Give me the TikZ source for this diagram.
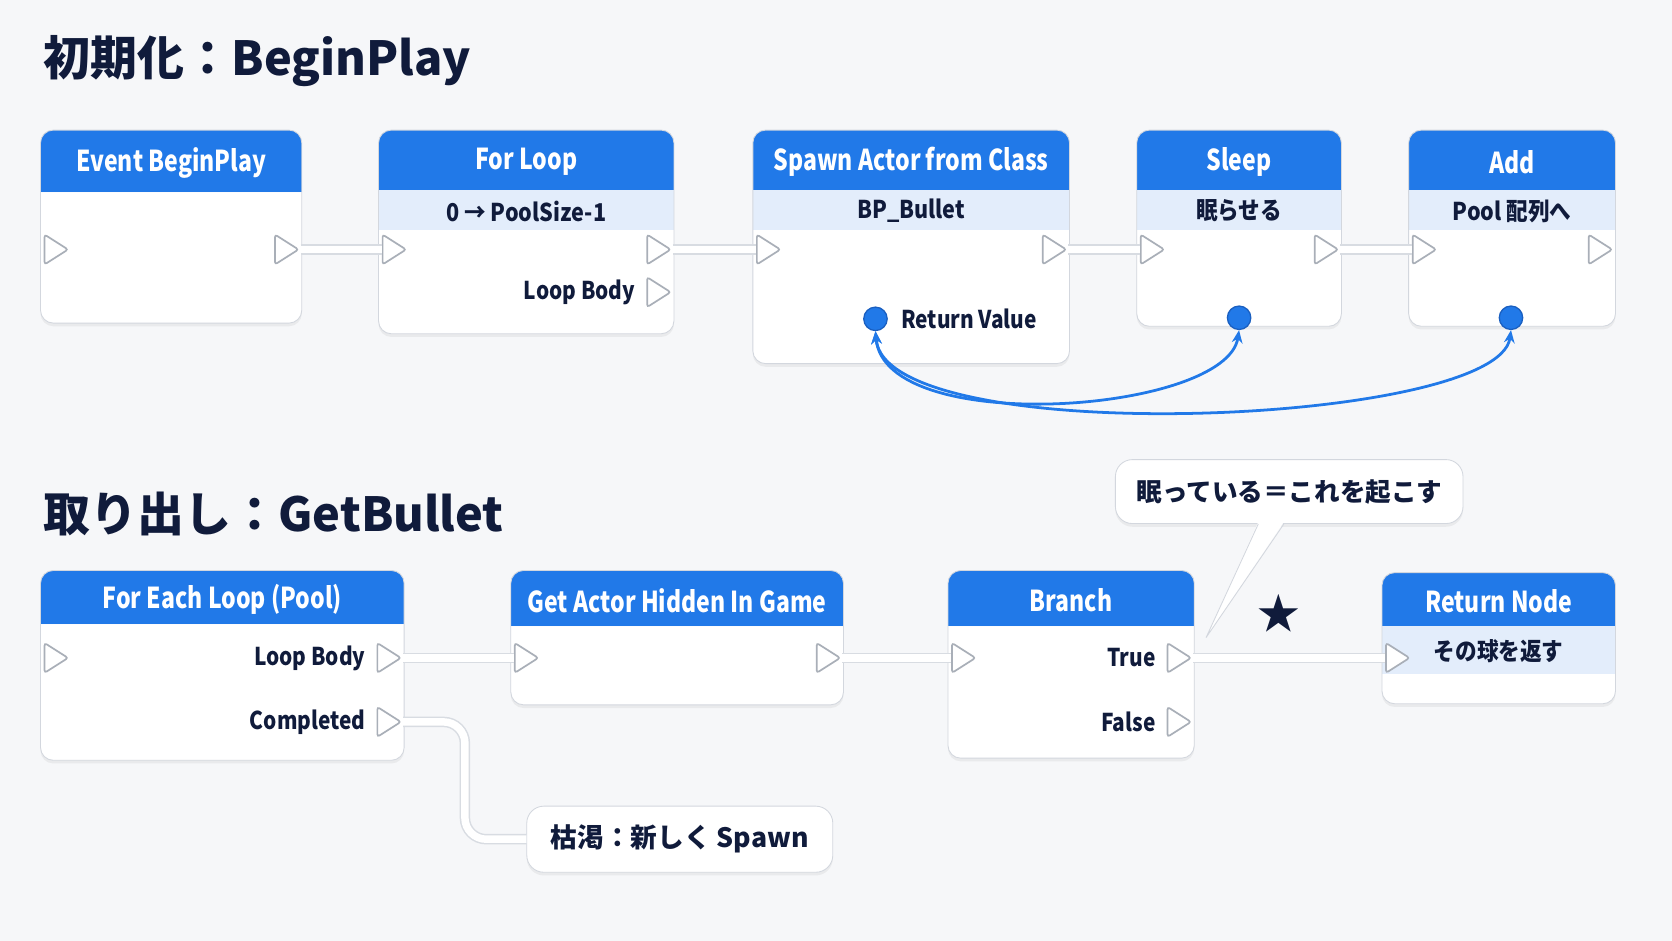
\documentclass[tikz,border=0pt]{standalone}
\usepackage{fontspec}
\setmainfont{Noto Sans CJK JP}
\newfontfamily\condfont{Noto Sans CJK JP}[FakeStretch=0.8]
\newfontfamily\medfont{Noto Sans CJK JP}[FakeStretch=0.85]
\newfontfamily\bandfont{Noto Sans CJK JP}[FakeStretch=0.88]
\usetikzlibrary{positioning,shapes.geometric,shadows,arrows.meta}

\definecolor{bgcol}{HTML}{F6F7F9}
\definecolor{hdrblue}{HTML}{2179E8}
\definecolor{bandblue}{HTML}{E3EDFB}
\definecolor{navy}{HTML}{101B3B}
\definecolor{boxline}{HTML}{D3D7DE}
\definecolor{pingray}{HTML}{A9AFB8}
\definecolor{wiregray}{HTML}{D8DCE2}
\definecolor{pinblue}{HTML}{1A5FC0}

% blueprint node: name, left, top, right, bottom, header bottom, band bottom, title, band text
\newcommand{\bpnode}[9]{%
  \fill[white, rounded corners=6pt, soft] (#2,#3) rectangle (#4,#5);
  \begin{scope}
    \clip[rounded corners=6pt] (#2,#3) rectangle (#4,#5);
    \fill[hdrblue] (#2,#3) rectangle (#4,#6);
    \fill[bandblue] (#2,#6) rectangle (#4,#7);
  \end{scope}
  \draw[boxline, rounded corners=6pt] (#2,#3) rectangle (#4,#5);
  \node[hdrtext] (#1) at ({(#2+#4)/2},{(#3+#6)/2+2}) {#8};
  \node[bandtext] (#1-b) at ({(#2+#4)/2},{(#6+#7)/2+1}) {#9};
}

\begin{document}
\begin{tikzpicture}[
  x=0.5pt, y=-0.5pt,
  soft/.style={drop shadow={opacity=0.10, shadow xshift=0pt, shadow yshift=-1.5pt}},
  title/.style={anchor=west, text=navy, font=\fontsize{22}{26}\selectfont\bfseries},
  hdrtext/.style={text=white, font=\condfont\fontsize{13.5}{16}\selectfont\bfseries},
  bandtext/.style={text=navy, font=\bandfont\fontsize{11.5}{14}\selectfont\bfseries},
  pinlabel/.style={text=navy, inner sep=0pt, font=\medfont\fontsize{11.5}{14}\selectfont\bfseries},
  exec/.style={isosceles triangle, isosceles triangle stretches,
    minimum width=14pt, minimum height=11pt, inner sep=0pt,
    draw=pingray, fill=white, line width=0.8pt, rounded corners=1.2pt},
  datapin/.style={circle, fill=hdrblue, draw=pinblue, line width=0.6pt,
    minimum size=11pt, inner sep=0pt},
  wire/.style={draw=wiregray, line width=0.7pt, double=white, double distance=3.5pt},
  dataflow/.style={draw=hdrblue, line width=1.3pt,
    {Stealth[length=6pt,width=5pt]}-{Stealth[length=6pt,width=5pt]}},
  note/.style={fill=white, draw=boxline, rounded corners=8pt, soft, text=navy,
    font=\fontsize{12.5}{15}\selectfont\bfseries}
]
\useasboundingbox (0,0) rectangle (1568,882);
\fill[bgcol] (0,0) rectangle (1568,882);

% ── Titles ──
\node[title] (t-init) at (34,57) {初期化：BeginPlay};
\node[title] (t-get)  at (34,482) {取り出し：GetBullet};

% ── Row 1: BeginPlay ──
\bpnode{ev}{38}{122}{283}{303}{180}{180}{Event BeginPlay}{}
\bpnode{fl}{355}{122}{632}{313}{178}{216}{For Loop}{0 → PoolSize-1}
\bpnode{sp}{706}{122}{1003}{341}{178}{216}{Spawn Actor from Class}{BP\_Bullet}
\bpnode{sl}{1066}{122}{1258}{306}{178}{216}{Sleep}{眠らせる}
\bpnode{ad}{1321}{122}{1515}{306}{178}{216}{Add}{Pool 配列へ}

\node[exec, anchor=west] (ev-in)   at (41,234) {};
\node[exec, anchor=east] (ev-out)  at (282,234) {};
\node[exec, anchor=west] (fl-in)   at (358,234) {};
\node[exec, anchor=east] (fl-out)  at (631,234) {};
\node[exec, anchor=east] (fl-body) at (631,274) {};
\node[exec, anchor=west] (sp-in)   at (709,234) {};
\node[exec, anchor=east] (sp-out)  at (1002,234) {};
\node[exec, anchor=west] (sl-in)   at (1069,234) {};
\node[exec, anchor=east] (sl-out)  at (1257,234) {};
\node[exec, anchor=west] (ad-in)   at (1324,234) {};
\node[exec, anchor=east] (ad-out)  at (1514,234) {};

\node[datapin] (rv)   at (821,299) {};
\node[datapin] (sl-d) at (1162,298) {};
\node[datapin] (ad-d) at (1417,298) {};

\node[pinlabel, left=5pt of fl-body] (fl-body-l) {Loop Body};
\node[pinlabel, right=6pt of rv]     (rv-l) {Return Value};

\draw[wire] (ev-out.east) -- (fl-in.west);
\draw[wire] (fl-out.east) -- (sp-in.west);
\draw[wire] (sp-out.east) -- (sl-in.west);
\draw[wire] (sl-out.east) -- (ad-in.west);

% ── Return Value → Sleep / Add ──
\draw[dataflow] (rv.south) .. controls +(9,100) and +(-12,78) .. (sl-d.south);
\draw[dataflow] (rv.south) .. controls +(9,112) and +(-12,90) .. (ad-d.south);

% ── Row 2: GetBullet ──
\bpnode{fe}{38}{535}{379}{713}{585}{585}{For Each Loop (Pool)}{}
\bpnode{gh}{479}{535}{791}{661}{587}{587}{Get Actor Hidden In Game}{}
\bpnode{br}{889}{535}{1120}{711}{587}{587}{Branch}{}
\bpnode{rn}{1296}{537}{1515}{660}{587}{632}{Return Node}{その球を返す}

\node[exec, anchor=west] (fe-in)    at (41,617) {};
\node[exec, anchor=east] (fe-body)  at (378,617) {};
\node[exec, anchor=east] (fe-done)  at (378,677) {};
\node[exec, anchor=west] (gh-in)    at (482,617) {};
\node[exec, anchor=east] (gh-out)   at (790,617) {};
\node[exec, anchor=west] (br-in)    at (892,617) {};
\node[exec, anchor=east] (br-true)  at (1119,617) {};
\node[exec, anchor=east] (br-false) at (1119,677) {};
\node[exec, anchor=west] (rn-in)    at (1299,617) {};

\node[pinlabel, left=5pt of fe-body]  (fe-body-l)  {Loop Body};
\node[pinlabel, left=5pt of fe-done]  (fe-done-l)  {Completed};
\node[pinlabel, left=5pt of br-true]  (br-true-l)  {True};
\node[pinlabel, left=5pt of br-false] (br-false-l) {False};

\node[note, minimum width=143.5pt, minimum height=31pt] (spawn) at (637.5,787) {枯渇：新しく Spawn};

\draw[wire] (fe-body.east) -- (gh-in.west);
\draw[wire] (gh-out.east) -- (br-in.west);
\draw[wire] (br-true.east) -- (rn-in.west);
\draw[wire, rounded corners=10pt] (fe-done.east) -- ++(58,0) |- (spawn.west);

% ── Callout on True ──
\node[note, minimum width=163pt, minimum height=30pt,
  font=\fontsize{12}{15}\selectfont\bfseries] (wake) at (1209,461) {眠っている＝これを起こす};
\coordinate (wake-tip) at (1131,598);
\fill[white] ([xshift=-14.5pt,yshift=1pt]wake.south) -- (wake-tip)
  -- ([xshift=-2.5pt,yshift=1pt]wake.south) -- cycle;
\draw[boxline] ([xshift=-14.5pt]wake.south) -- (wake-tip) -- ([xshift=-2.5pt]wake.south);
\node[text=navy, font=\fontsize{20}{20}\selectfont] (star) at (1199,575) {★};

\end{tikzpicture}
\end{document}
